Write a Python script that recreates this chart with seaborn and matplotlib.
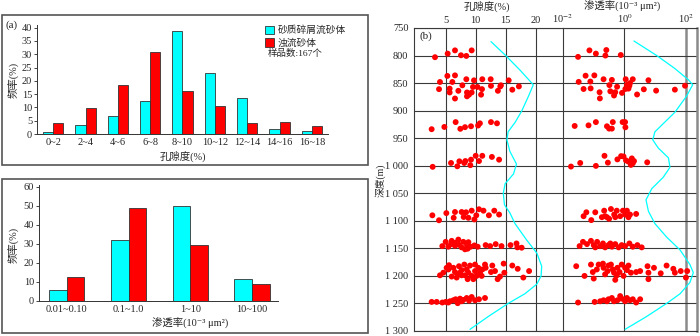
import numpy as np
import pandas as pd
import matplotlib
matplotlib.use("Agg")
import matplotlib.pyplot as plt
from matplotlib.patches import Patch, Rectangle
from matplotlib.ticker import NullLocator
import seaborn as sns

# ---------------- data ----------------
por_classes = ["0~2", "2~4", "4~6", "6~8", "8~10", "10~12", "12~14", "14~16", "16~18"]
por_debris = [0.9, 3.3, 6.8, 12.4, 38.8, 23.0, 13.5, 1.8, 1.3]
por_turb = [4.0, 9.6, 18.4, 31.0, 16.1, 10.6, 4.3, 4.7, 2.9]

perm_classes = ["0.01~0.10", "0.1~1.0", "1~10", "10~100"]
perm_debris = [5.6, 32.2, 49.7, 11.4]
perm_turb = [12.4, 49.0, 29.4, 8.7]

series_names = ["砂质碎屑流砂体", "浊流砂体"]

# porosity (%) vs depth (m) samples
por_val = [3.22, 5.33, 6.55, 7.55, 8.44, 9.33,
           5.28, 6.55, 4.05, 6.11, 8.44, 9.72, 11.1, 12.5, 15.5, 3.89, 5.66, 5.66, 7.11, 7.78,
           9.55, 10.3, 11.05, 8.55, 8.89, 8.55, 9.33, 10.9, 12.55, 14.2, 14.1, 13.7, 16.1, 17.2, 6.55,
           2.66, 4.78, 6.66, 7.44, 8.22, 9.22, 10.4, 10.7, 12.55, 13.55,
           2.83, 5.89, 6.94, 7.28, 8.28, 9.11, 9.22, 10.0, 10.55, 11.1, 12.7, 13.9, 8.1,
           2.78, 3.89, 5.11, 6.55, 6.33, 7.66, 8.39, 8.0, 8.78, 9.33, 9.78, 10.1, 10.55, 11.3, 12.2, 13.1, 13.9,
           4.44, 5.0, 5.89, 6.0, 6.55, 7.11, 7.22, 7.66, 7.94, 8.22, 8.55, 8.78, 9.16, 9.78, 10.33, 11.66,
           12.4, 13.33, 14.3, 15.8, 16.8, 16.94, 17.66, 5.44, 8.66, 6.55,
           4.05, 4.61, 5.55, 5.44, 6.28, 6.55, 6.0, 6.83, 7.22, 7.39, 7.66, 8.11, 8.22, 8.5, 8.78, 9.05,
           9.33, 9.61, 9.89, 9.89, 10.16, 10.44, 10.72, 11.11, 11.55, 11.66, 12.77, 12.55, 13.22, 13.66,
           14.05, 14.66, 14.77, 16.1, 17.0, 17.94, 18.9, 8.66, 7.66, 11.0, 5.16, 7.11,
           2.66, 3.5, 4.44, 5.0, 5.72, 6.28, 6.66, 7.0, 7.39, 7.94, 8.5, 8.89, 9.33, 9.89, 10.55, 11.55, 5.44, 7.66]
por_depth = [803, 796.5, 790.6, 799.5, 800.7, 790.6,
             837, 836, 848, 848, 843, 845, 843, 843, 845, 861, 860, 867, 864, 854,
             857, 857, 861, 867, 871, 874, 867, 871, 855, 854, 856, 864, 862, 856, 878,
             933.7, 929.6, 920.8, 933, 930, 928.4, 927, 923, 920.8, 923,
             1002, 995, 1001, 992, 991.5, 999, 989, 982, 991.5, 982, 984, 989, 995,
             1090, 1099, 1086, 1084, 1094.5, 1084, 1084.5, 1093, 1094.5, 1081.6, 1097.5, 1090, 1079, 1081.6, 1090, 1081.6, 1088.6,
             1145.9, 1138.2, 1142.3, 1136.4, 1145.3, 1134.1, 1143.5, 1148.2, 1138.2, 1151.7, 1144.1, 1138.8, 1147, 1144.7, 1147, 1144.1,
             1145.9, 1142.3, 1145.9, 1144.1, 1141.1, 1148.2, 1148.8, 1147, 1150.6, 1140,
             1198.9, 1194.2, 1180.6, 1188.3, 1185.3, 1193, 1201.2, 1203, 1182.4, 1194.2, 1189.4, 1179.4, 1198.9, 1188.3, 1194.2, 1181.2,
             1200, 1205.9, 1179.4, 1191.2, 1200, 1185.3, 1194.2, 1188.3, 1179.4, 1185.3, 1181.2, 1193, 1191.2, 1205.9,
             1201.2, 1177.7, 1194.2, 1181.2, 1187.1, 1203, 1191.2, 1205.9, 1198.9, 1200, 1185.3, 1197.1,
             1247.2, 1247.2, 1248.3, 1247.2, 1246, 1244.2, 1242.4, 1249.5, 1241.3, 1243.6, 1240.1, 1244.8, 1238.3, 1244.2, 1242.4, 1240.1, 1248.3, 1246]

# permeability (10^-3 um^2) vs depth, read as log10 values
perm_log = [-1.51, -1.14, -0.93, -0.59, -0.62, -0.12,
            -1.265, -0.98, -1.49, -1.11, -0.68, -0.41, -0.49, -0.24, 0.04, 0.27, 0.08, 0.16, 0.13, 0.03,
            -0.08, -0.46, -0.34, -0.81, -0.8, -1.33, -1.10, 0.41, 0.63, 0.78, 1.03, 1.64, 1.97, -0.30, 0.18,
            -1.62, -1.17, -0.93, -0.57, -0.50, -0.41, -0.38, -0.06, 0.02, 0.03,
            -1.74, -1.44, -0.93, -0.65, -0.54, -0.23, -0.11, -0.03, 0.05, 0.13, 0.21, 0.24, 0.31, 0.27, 0.74,
            -1.33, -1.24, -1.08, -0.95, -0.735, -0.66, -0.57, -0.50, -0.44, -0.335, -0.25, -0.14, -0.05, 0.02,
            0.08, 0.13, 0.18, 0.38, -0.63, -0.30,
            -1.46, -1.35, -1.22, -1.09, -1.0, -0.89, -0.79, -0.70, -0.63, -0.52, -0.41, -0.30, -0.19, -0.09,
            0.02, 0.16, 0.27, 0.42, 0.56, -0.95, -0.46,
            -1.57, -1.30, -1.09, -1.0, -1.03, -0.90, -0.70, -0.68, -0.63, -0.55, -0.44, -0.38, -0.34, -0.30,
            -0.23, -0.16, -0.09, -0.03, 0.02, 0.08, 0.13, 0.21, 0.38, 0.51, 0.75, 0.78, 0.78, 0.96, 1.18,
            1.37, 1.59, 1.64, 1.83, 2.0, 2.04, -0.84, -0.25, -0.52,
            -1.51, -0.97, -0.79, -0.68, -0.52, -0.41, -0.34, -0.23, -0.14, -0.09, 0.02, 0.18, 0.27, 0.38, 0.51, -0.57, 0.08]
perm_depth = [802.4, 790.6, 796.5, 790, 800, 799,
              836.6, 836, 847.8, 847.2, 843, 844.2, 853.7, 856.6, 843, 843, 853, 854.8, 860, 860.7,
              867.8, 864.9, 872.5, 866.6, 877.8, 860.7, 859.6, 870.7, 861.3, 844.8, 863.7, 861.9, 854.8, 866.6, 850,
              927.8, 926.7, 920.8, 928.4, 932.6, 932.6, 920.8, 920.8, 920.8, 930.2,
              1001.5, 995, 1000.3, 982, 994.4, 988.5, 982.6, 983.2, 990.3, 992.6, 998.5, 986.7, 991.5, 995.6, 993.8,
              1091.6, 1084.5, 1098.7, 1084.5, 1093.4, 1081.6, 1093.4, 1096.3, 1078.6, 1088.6, 1081.6, 1091.6, 1081.6, 1088.6,
              1081.6, 1093.4, 1088.6, 1087.5, 1091.6, 1093.4,
              1145.9, 1138.2, 1142.3, 1136.4, 1144.1, 1138.2, 1145.9, 1141.1, 1148.2, 1144.1, 1147, 1142.3, 1148.2, 1144.1,
              1145.9, 1141.1, 1147, 1144.1, 1148.2, 1148.2, 1141.1,
              1182.4, 1200, 1179.4, 1204.8, 1193, 1188.3, 1177.7, 1185.3, 1197.1, 1191.2, 1179.4, 1188.3, 1194.2, 1207.1,
              1185.3, 1193, 1179.4, 1200, 1185.3, 1189.4, 1181.2, 1194.2, 1193, 1191.2, 1182.4, 1194.2, 1205.9, 1185.3, 1195.3,
              1181.2, 1187.1, 1194.2, 1191.2, 1203, 1191.2, 1179.4, 1198.9, 1181.2,
              1248.3, 1247.2, 1246, 1244.2, 1242.4, 1240.1, 1246, 1244.2, 1236.6, 1241.3, 1246, 1244.2, 1242.4, 1248.3, 1242.4, 1246, 1240.1]

# cyan trend curves
por_curve_depth = [774.7, 800, 826.6, 853, 873.7, 900, 920.8, 938.5, 953, 974, 997, 1015, 1032.7, 1050, 1071,
                   1085.7, 1105, 1135, 1158.8, 1182.4, 1200, 1214.8, 1232.4, 1250, 1273.7, 1297]
por_curve_val = [12.55, 15.0, 17.4, 19.6, 18.8, 17.7, 16.6, 15.4, 15.2, 15.7, 16.8, 16.3, 14.9, 14.6, 14.8,
                 15.7, 16.55, 18.5, 20.2, 21.0, 20.9, 20.2, 18.2, 15.4, 12.1, 9.05]
perm_curve_depth = [773.6, 800, 823.6, 844, 853, 873.7, 903, 923.7, 938.5, 953, 967.9, 985.6, 1003, 1021, 1041.5,
                    1062, 1082.8, 1105, 1129.4, 1153, 1179.4, 1194, 1211.8, 1232.4, 1250, 1273.7, 1297]
perm_curve_log = [0.31, 1.05, 1.64, 2.08, 2.22, 2.02, 1.64, 1.26, 0.99, 0.92, 1.10, 1.43, 1.48, 1.26, 0.89,
                  0.70, 0.78, 0.99, 1.37, 1.81, 2.13, 2.24, 2.13, 1.81, 1.37, 0.72, 0.02]

depth_ticks = list(range(750, 1301, 50))
depth_labels = ["750", "800", "850", "900", "950", "1 000", "1 050", "1 100", "1 150", "1 200", "1 250", "1 300"]

# ---------------- style ----------------
sns.set_style("ticks")
plt.rcParams["font.family"] = ["Liberation Serif", "Noto Sans CJK SC", "DejaVu Sans"]
plt.rcParams["mathtext.fontset"] = "stix"
plt.rcParams["axes.unicode_minus"] = False
FS = 7.5
CYAN = "#00FFFF"
RED = "#FF0000"
W, H = 700, 336
PERM_LABEL = "渗透率(10⁻³ μm²)"

fig = plt.figure(figsize=(7.0, 3.36), dpi=100)

def fbox(l, t, r, b):
    return [l / W, 1 - b / H, (r - l) / W, (b - t) / H]

# frames around the (a) panels
for (l, t, r, b) in [(2, 15, 368, 165), (2, 179, 368, 333)]:
    fig.patches.append(Rectangle((l / W, 1 - b / H), (r - l) / W, (b - t) / H,
                                 transform=fig.transFigure, fill=False,
                                 edgecolor="#555555", lw=1.2))

def bar_panel(ax, cats, a, b, width, ymax, yticks):
    df = pd.DataFrame({
        "cat": cats * 2,
        "val": a + b,
        "type": [series_names[0]] * len(cats) + [series_names[1]] * len(cats),
    })
    sns.barplot(data=df, x="cat", y="val", hue="type", palette=[CYAN, RED],
                width=width, edgecolor="#333333", linewidth=0.6, ax=ax,
                legend=False, saturation=1)
    ax.set_xlim(-0.5, len(cats) - 0.5)
    ax.set_ylim(0, ymax)
    ax.set_yticks(yticks)
    ax.tick_params(axis="both", labelsize=FS, length=2, width=0.6, pad=1.5)
    ax.tick_params(axis="x", length=0, pad=3)
    for s in ["top", "right"]:
        ax.spines[s].set_visible(False)
    for s in ["left", "bottom"]:
        ax.spines[s].set_linewidth(0.7)
        ax.spines[s].set_color("#333333")
    ax.set_xlabel("")
    ax.set_ylabel("")

# top-left: porosity distribution
ax1 = fig.add_axes(fbox(37, 25, 328, 134))
bar_panel(ax1, por_classes, por_debris, por_turb, 0.62, 41, list(range(0, 41, 5)))
ax1.legend(handles=[Patch(facecolor=CYAN, edgecolor="#333333", lw=0.6),
                    Patch(facecolor=RED, edgecolor="#333333", lw=0.6)],
           labels=series_names, loc="upper left", bbox_to_anchor=(0.77, 1.03),
           frameon=False, fontsize=7, handlelength=0.9, handleheight=1.0,
           handletextpad=0.4, labelspacing=0.3, borderaxespad=0)
fig.text(268 / W, 1 - 53 / H, "样品数:167个", fontsize=6.8, va="center", ha="left")
fig.text(5 / W, 1 - 25 / H, "(a)", fontsize=8, va="center", ha="left")
fig.text(13 / W, 1 - 80 / H, "频率(%)", fontsize=7.5, rotation=90, va="center", ha="center")
fig.text(183 / W, 1 - 156 / H, "孔隙度(%)", fontsize=7.5, va="center", ha="center")

# bottom-left: permeability distribution
ax2 = fig.add_axes(fbox(39, 185, 278, 301))
bar_panel(ax2, perm_classes, perm_debris, perm_turb, 0.57, 61, list(range(0, 61, 10)))
ax2.set_xlim(-0.45, 3.42)
fig.text(13 / W, 1 - 245 / H, "频率(%)", fontsize=7.5, rotation=90, va="center", ha="center")
fig.text(190 / W, 1 - 323 / H, PERM_LABEL, fontsize=7.5, va="center", ha="center")

# right: depth profiles
ax_p = fig.add_axes(fbox(414, 28, 563, 331))
ax_k = fig.add_axes(fbox(563, 28, 697, 331))

grid_kw = dict(color="#3a3a3a", lw=0.8)

sns.scatterplot(x=por_val, y=por_depth, color=RED, s=18, edgecolor="none", ax=ax_p, zorder=3)
sns.lineplot(x=por_curve_val, y=por_curve_depth, sort=False, estimator=None, color=CYAN,
             lw=0.9, ax=ax_p, zorder=2)
perm_val = [10 ** v for v in perm_log]
perm_curve_val = [10 ** v for v in perm_curve_log]
sns.scatterplot(x=perm_val, y=perm_depth, color=RED, s=18, edgecolor="none", ax=ax_k, zorder=3)
sns.lineplot(x=perm_curve_val, y=perm_curve_depth, sort=False, estimator=None, color=CYAN,
             lw=0.9, ax=ax_k, zorder=2)

ax_k.set_xscale("log")
for ax in (ax_p, ax_k):
    ax.set_ylim(1300, 750)
    ax.set_yticks(depth_ticks)
    ax.grid(True, **grid_kw)
    ax.set_axisbelow(True)
    ax.set_xlabel("")
    ax.set_ylabel("")
    ax.xaxis.tick_top()
    for s in ax.spines.values():
        s.set_color("#3a3a3a")
        s.set_linewidth(0.8)

ax_p.set_xlim(-0.28, 24.55)
ax_p.set_xticks([5, 10, 15, 20])
ax_p.set_xticklabels(["5", "10", "15", "20"])
ax_p.set_yticklabels(depth_labels)
ax_p.tick_params(axis="x", length=0, labelsize=FS, pad=2)
ax_p.tick_params(axis="y", length=0, labelsize=FS, pad=4)
ax_p.spines["right"].set_visible(False)

ax_k.set_xlim(1e-2, 10 ** 2.36)
ax_k.set_xticks([1e-2, 1e0, 1e2])
ax_k.set_xticklabels(["10$^{-2}$", "10$^{0}$", "10$^{2}$"])
ax_k.xaxis.set_minor_locator(NullLocator())
ax_k.tick_params(axis="x", length=0, labelsize=FS, pad=2)
ax_k.tick_params(axis="y", length=0, labelleft=False)
ax_k.grid(False, axis="x")
ax_k.axvline(1e0, color="#3a3a3a", lw=0.8, zorder=0)
ax_k.axvline(1e2, color="#8a8a8a", lw=1.8, zorder=0)
ax_k.spines["right"].set_color("#8a8a8a")
ax_k.spines["right"].set_linewidth(1.8)

fig.text(487 / W, 1 - 6 / H, "孔隙度(%)", fontsize=7.5, va="center", ha="center")
fig.text(622 / W, 1 - 6 / H, PERM_LABEL, fontsize=7.5, va="center", ha="center")
fig.text(419 / W, 1 - 36 / H, "(b)", fontsize=8, va="center", ha="left")
fig.text(380 / W, 1 - 180 / H, "深度(m)", fontsize=7, rotation=90, va="center", ha="center")

fig.savefig("out.png", dpi=100)
